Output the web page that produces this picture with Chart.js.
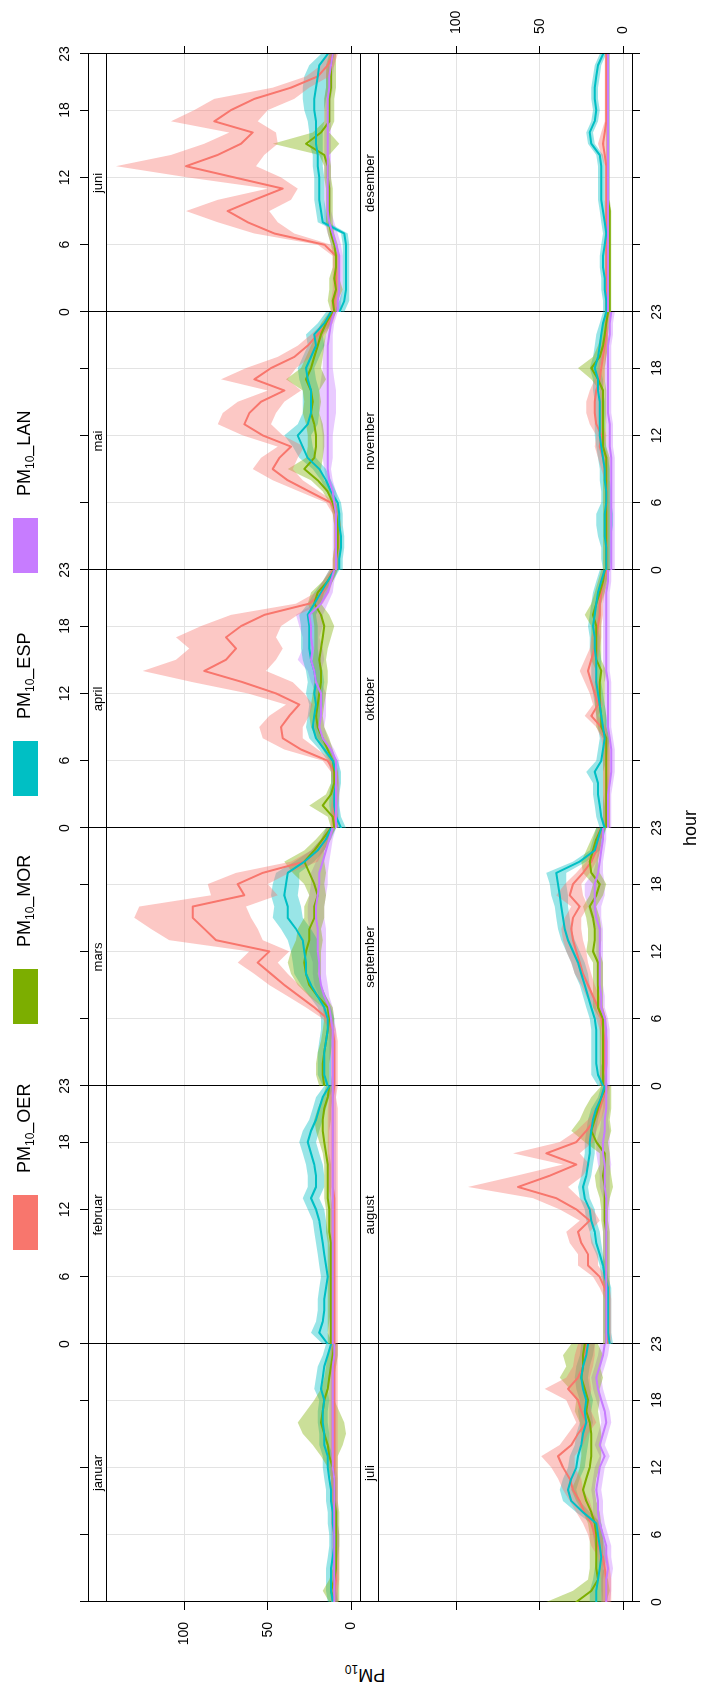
<!DOCTYPE html>
<html>
<head>
<meta charset="utf-8">
<script src="https://cdn.jsdelivr.net/npm/chart.js@4.4.1/dist/chart.umd.min.js"></script>
<style>
  html, body { margin: 0; padding: 0; background: #fff; overflow: hidden; }
  body { width: 701px; height: 1693px; position: relative; }
  /* the whole figure is laid out landscape and turned a quarter turn */
  #stage {
    position: absolute; left: 0; top: 0; width: 1693px; height: 701px;
    transform-origin: 0 0; transform: translate(0, 1693px) rotate(-90deg);
    font-family: "Liberation Sans", Arial, sans-serif; color: #000;
  }
  #stage canvas { position: absolute; }
  .key-box { position: absolute; top: 13px; width: 55px; height: 25px; }
  .key-text { position: absolute; top: 14px; font-size: 18px; line-height: 20px; white-space: nowrap; }
  .key-text sub, .title sub { font-size: 12px; line-height: 0; vertical-align: -4px; }
  .title { position: absolute; font-size: 18px; line-height: 20px; white-space: nowrap; }
</style>
</head>
<body>
<div id="stage"></div>
<script>
// hourly PM10 by month, four stations: mean and half width of the 95% interval
const months = ['januar', 'februar', 'mars', 'april', 'mai', 'juni',
                'juli', 'august', 'september', 'oktober', 'november', 'desember'];
const hours = [0, 1, 2, 3, 4, 5, 6, 7, 8, 9, 10, 11, 12, 13, 14, 15, 16, 17, 18, 19, 20, 21, 22, 23];
const hourTicks = [0, 6, 12, 18, 23];
const valueTicks = [0, 50, 100];
const seriesNames = ['OER', 'MOR', 'ESP', 'LAN'];

const oerMean = [
  [10,10,9,9,9,9,9,10,10,10,10,10,10,10,10,10,10,10,10,10,10,10,10,10],
  [10,10,10,10,10,10,10,10,10,10,10,10,10,10,11,11,11,11,11,11,11,11,11,10],
  [10,10,10,10,10,11,14,22,31,40,48,56,49,81,88,95,95,64,68,53,28,20,15,12],
  [10,10,10,9,9,10,14,30,41,42,37,31,45,65,88,75,69,75,66,52,25,17,14,11],
  [9,9,8,8,8,9,12,25,38,47,43,36,53,64,61,54,40,58,48,34,26,20,14,11],
  [10,10,9,9,9,9,16,46,62,74,58,41,70,99,80,66,59,82,72,58,36,20,14,11],
  [10,10,10,11,12,15,17,19,23,26,30,32,36,39,31,27,22,25,27,33,27,24,23,22],
  [9,9,9,9,9,11,14,21,21,25,27,20,28,40,63,44,28,46,28,22,17,14,12,10],
  [12,12,11,11,11,12,13,15,18,21,24,26,28,30,31,30,26,32,30,24,19,16,15,13],
  [10,10,10,10,10,10,10,10,11,13,19,15,17,19,21,19,17,16,15,14,14,13,12,10],
  [10,10,10,10,10,10,10,10,10,11,12,14,13,16,17,17,16,14,13,12,11,10,10,9],
  [10,10,10,10,10,10,10,10,10,10,10,10,10,10,11,12,11,10,10,10,10,10,10,10]
];
const oerCi = [
  [2,2,2,2,2,2,2,2,2,2,2,2,2,2,2,2,2,2,2,2,2,2,2,2],
  [2,2,2,2,2,2,2,2,2,2,2,2,2,2,3,3,3,3,3,3,3,3,2,2],
  [2,2,2,2,2,2,3,5,7,9,10,12,12,28,32,35,32,20,18,16,8,4,3,2],
  [2,2,2,2,2,2,3,10,12,13,12,8,17,30,37,30,28,30,24,20,8,4,3,2],
  [2,2,2,2,2,2,3,6,9,12,11,8,12,16,16,14,10,20,15,10,6,4,3,2],
  [2,2,2,2,2,2,4,12,18,25,22,9,28,42,28,22,14,26,22,24,11,7,4,3],
  [3,3,3,3,3,4,4,5,5,6,6,7,7,10,7,6,6,6,7,14,7,6,6,5],
  [2,2,2,2,2,3,4,6,6,7,7,6,10,14,30,20,8,20,10,6,4,3,2,2],
  [2,2,2,2,2,2,3,3,4,4,5,5,6,6,6,5,5,8,5,4,3,3,2,2],
  [2,2,2,2,2,2,2,2,2,3,4,3,3,4,5,4,3,3,2,2,2,2,2,2],
  [1,1,1,1,1,1,1,1,1,2,3,3,3,4,5,5,4,3,2,2,2,1,1,1],
  [1,1,1,1,1,1,1,1,1,1,1,1,1,1,2,3,2,1,1,1,1,1,1,1]
];

const morMean = [
  [10,12,10,9,9,9,9,9,9,10,10,10,11,13,14,16,18,17,16,14,13,12,11,10],
  [12,12,12,12,12,12,12,12,12,12,13,13,13,14,14,14,14,15,16,17,17,16,14,13],
  [16,17,17,16,15,14,13,14,20,25,27,28,27,25,25,22,22,20,22,25,28,22,17,12],
  [10,11,17,12,10,10,11,14,17,20,21,20,19,18,18,19,18,17,16,18,22,20,14,10],
  [9,9,8,8,8,9,11,14,20,28,22,21,21,22,24,23,24,27,24,22,20,18,15,11],
  [10,11,9,10,9,9,10,12,13,13,13,13,14,14,16,27,18,13,13,13,12,12,12,11],
  [28,19,15,16,16,16,16,17,19,22,24,22,20,19,19,19,20,22,21,23,25,24,24,23],
  [10,10,10,10,10,10,10,10,10,10,10,11,11,11,11,12,11,11,16,19,17,15,13,10],
  [12,12,12,12,12,12,12,15,15,15,15,15,18,17,17,18,20,16,14,19,20,18,16,13],
  [10,10,10,10,10,10,10,10,10,13,13,14,14,14,13,16,16,16,16,18,16,14,12,11],
  [10,10,10,10,10,10,10,10,10,10,10,12,12,12,12,12,12,15,19,14,12,11,10,9],
  [8,8,8,8,8,8,8,8,8,8,9,9,9,9,9,9,9,9,9,9,9,9,9,9]
];
const morCi = [
  [3,5,3,2,2,2,2,2,2,2,2,2,3,5,9,13,14,10,6,4,3,3,3,2],
  [2,2,2,2,2,2,2,2,2,2,2,2,2,2,2,2,2,2,3,4,5,4,3,2],
  [3,4,4,4,3,3,3,3,5,7,9,10,9,8,7,6,6,5,6,10,12,6,4,3],
  [2,3,8,3,2,2,2,3,4,4,4,4,4,4,4,4,4,5,6,5,4,4,3,2],
  [2,2,2,2,2,2,2,3,4,10,5,5,5,5,5,5,5,12,6,5,4,3,3,2],
  [2,3,4,3,2,2,2,2,2,2,2,2,2,2,3,20,5,3,3,3,3,3,3,2],
  [18,11,6,4,4,4,4,4,5,6,7,6,6,6,6,6,6,7,7,9,13,10,12,8],
  [2,2,2,2,2,2,2,2,2,2,2,2,2,3,5,5,3,3,7,12,9,8,6,3],
  [2,2,2,2,2,2,2,3,3,3,3,3,4,4,4,4,4,4,4,5,5,4,3,3],
  [2,2,2,2,2,2,2,2,2,3,3,3,3,3,3,3,3,3,3,5,3,3,3,2],
  [2,2,2,2,2,2,2,2,2,2,2,2,2,2,2,2,2,4,8,4,3,2,2,2],
  [1,1,1,1,1,1,1,1,1,1,1,1,1,1,1,1,1,1,1,1,1,1,1,1]
];

const espMean = [
  [11,12,12,12,11,10,10,11,11,12,12,13,14,14,16,16,17,17,16,18,17,16,14,12],
  [14,19,17,16,16,15,14,15,16,17,18,19,21,24,21,21,22,24,26,24,21,19,17,13],
  [14,16,16,16,15,14,14,16,20,24,27,27,28,29,33,38,38,40,39,38,28,20,15,12],
  [6,9,10,10,9,9,11,16,21,23,22,21,22,21,22,24,25,25,25,26,22,18,14,10],
  [7,7,6,6,7,7,8,12,15,19,26,29,32,26,24,24,24,26,27,24,21,22,16,12],
  [7,4,3,3,3,3,3,4,17,18,19,19,19,20,20,21,21,21,22,22,21,20,19,14],
  [16,16,15,14,13,14,15,16,24,31,33,31,28,27,25,24,22,23,22,24,25,24,22,21],
  [8,9,9,9,9,9,11,12,14,16,17,19,20,23,24,22,21,20,20,19,18,16,13,11],
  [12,15,16,16,16,16,17,19,21,23,25,27,30,33,35,36,37,38,39,40,26,17,15,13],
  [11,13,14,15,15,17,13,12,11,12,13,14,15,16,16,16,17,17,18,17,16,15,13,11],
  [10,10,10,11,11,11,10,10,11,11,12,13,14,14,14,14,15,15,17,15,14,13,12,10],
  [10,10,11,11,12,12,11,10,11,12,13,13,13,13,14,19,20,17,16,17,17,16,15,12]
];
const espCi = [
  [3,3,3,3,3,3,3,3,3,3,3,3,3,3,3,3,3,3,3,4,4,4,3,3],
  [3,5,4,4,4,4,4,4,4,4,4,4,5,5,5,5,5,5,5,5,4,4,4,3],
  [3,4,4,4,4,4,4,4,5,6,7,8,8,9,9,9,8,8,8,7,6,4,3,3],
  [3,3,3,3,3,3,3,3,4,4,4,4,5,5,5,5,5,5,5,5,4,4,3,3],
  [2,2,2,2,2,2,2,3,3,4,5,6,8,6,5,5,5,5,5,5,5,5,4,3],
  [3,3,2,2,2,2,2,2,3,3,3,3,3,3,3,4,4,5,6,7,8,8,6,4],
  [4,4,3,3,3,3,3,3,4,5,5,5,5,5,4,4,4,4,4,4,4,4,4,4],
  [2,2,2,2,2,2,2,2,2,3,3,3,3,3,3,3,3,3,3,3,3,3,2,2],
  [3,4,3,3,3,3,3,3,3,3,4,4,4,4,4,4,4,5,5,6,4,3,3,3],
  [3,3,3,3,3,5,3,3,3,3,3,3,3,3,3,3,3,3,3,3,3,3,3,3],
  [2,3,3,4,5,5,3,3,3,3,3,3,3,3,3,3,3,3,3,3,3,3,2,2],
  [2,2,2,2,2,2,2,2,2,2,2,2,2,2,2,2,2,2,2,2,2,2,2,2]
];

const lanMean = [
  [10,10,10,10,10,10,10,10,10,10,10,10,11,11,11,11,11,11,11,11,11,11,10,10],
  [11,11,11,11,11,11,11,11,11,11,11,11,11,11,11,11,11,11,11,11,11,11,11,11],
  [11,11,11,11,11,11,12,13,16,18,19,19,20,20,20,21,21,20,19,19,17,15,13,11],
  [9,9,9,9,9,9,9,12,17,19,18,18,18,21,22,24,23,24,24,25,18,14,12,10],
  [9,9,9,9,9,9,10,11,13,14,14,14,14,14,14,14,14,14,14,14,14,13,12,10],
  [8,8,7,7,7,7,9,11,13,14,14,14,14,14,14,14,14,14,14,14,13,13,12,11],
  [10,10,10,9,10,10,12,14,15,15,16,15,14,11,14,12,10,11,13,15,16,14,12,11],
  [10,10,10,10,10,10,10,10,10,10,10,10,10,10,11,11,11,12,12,11,11,10,10,10],
  [10,10,10,10,10,10,11,13,13,14,14,14,14,14,14,16,17,17,17,15,14,13,12,12],
  [9,9,9,9,8,7,7,7,8,9,9,9,9,9,10,10,10,10,10,10,10,10,9,9],
  [7,7,7,7,7,7,7,7,7,7,7,8,8,8,9,9,9,9,9,9,9,8,8,7],
  [9,9,9,9,9,9,9,9,9,9,9,9,9,9,9,9,9,9,9,9,9,9,9,9]
];
const lanCi = [
  [2,2,2,2,2,2,2,2,2,2,2,2,2,2,2,2,2,2,2,2,2,2,2,2],
  [2,2,2,2,2,2,2,2,2,2,2,2,2,2,2,2,2,2,2,2,2,2,2,2],
  [2,2,2,2,2,2,2,2,3,4,4,4,5,5,5,5,5,5,5,5,4,3,2,2],
  [2,2,2,2,2,2,2,2,3,3,3,3,3,3,4,8,6,5,7,8,4,3,2,2],
  [2,2,2,2,2,2,2,2,2,2,3,3,3,4,5,5,5,4,3,3,3,2,2,2],
  [2,2,2,2,2,2,3,3,3,2,2,2,2,2,2,2,2,2,2,2,2,2,2,2],
  [2,3,3,3,3,3,3,3,3,3,3,3,3,3,3,3,3,3,3,3,3,3,3,3],
  [2,2,2,2,2,2,2,2,2,2,2,2,2,2,3,3,4,4,4,3,2,2,2,2],
  [2,2,2,2,2,2,2,2,2,2,2,2,2,2,2,3,4,6,6,3,2,2,2,2],
  [2,2,2,2,2,2,2,2,2,2,2,2,2,2,2,2,2,2,2,2,2,2,2,2],
  [2,2,2,2,2,2,2,2,2,2,2,2,2,2,2,2,2,2,2,2,2,2,2,2],
  [1,1,1,1,1,1,1,1,1,1,1,1,1,1,1,1,1,1,1,1,1,1,1,1]
];

const allMeans = [oerMean, morMean, espMean, lanMean];
const allCis = [oerCi, morCi, espCi, lanCi];
const lineColors = ['#F8766D', '#7CAE00', '#00BFC4', '#C77CFF'];
const bandColors = ['rgba(248,118,109,0.4)', 'rgba(124,174,0,0.4)', 'rgba(0,191,196,0.4)', 'rgba(199,124,255,0.4)'];

// panel geometry (landscape coordinates, before the quarter turn)
const PANEL_LEFT = 91;
const PANEL_W = 258;
const ROW_TOP = [88, 360];
const PANEL_H = 272;
const STRIP_H = 18;
const MARGIN = 50;
const Y_MIN = -5.4;
const Y_MAX = 157.8;
const GRID = '#e3e3e3';
const FONT = '"Liberation Sans", Arial, sans-serif';

Chart.defaults.font.family = FONT;
Chart.defaults.color = '#000';

const stage = document.getElementById('stage');

// white strip with the month name across the top of each panel
const stripPlugin = {
  id: 'strip',
  afterDraw(chart, args, opts) {
    const a = chart.chartArea;
    const ctx = chart.ctx;
    ctx.save();
    ctx.fillStyle = '#fff';
    ctx.fillRect(a.left + 1, a.top + 1, a.right - a.left - 1, STRIP_H - 1);
    ctx.strokeStyle = '#000';
    ctx.lineWidth = 1;
    ctx.beginPath();
    ctx.moveTo(a.left, a.top + STRIP_H + 0.5);
    ctx.lineTo(a.right + 1, a.top + STRIP_H + 0.5);
    ctx.stroke();
    ctx.fillStyle = '#000';
    ctx.font = '13px ' + FONT;
    ctx.textAlign = 'center';
    ctx.textBaseline = 'middle';
    ctx.fillText(opts.label, (a.left + a.right) / 2, a.top + STRIP_H / 2 + 1);
    ctx.restore();
  }
};

function hourAxis(position, withTicks, withLabels, gridOnArea, pad) {
  return {
    type: 'linear', position: position, min: 0, max: 23,
    afterBuildTicks: s => { s.ticks = hourTicks.map(v => ({ value: v })); },
    afterFit: s => { s.height = MARGIN; },
    grid: { display: true, drawOnChartArea: gridOnArea, color: GRID, drawTicks: withTicks, tickLength: 8, tickColor: '#000' },
    border: { color: '#000', width: 1 },
    ticks: { display: withLabels, padding: pad, autoSkip: false, maxRotation: 0, minRotation: 0,
             font: { size: 14 }, color: '#000', callback: v => String(v) }
  };
}

function valueAxis(position, withTicks, withLabels, gridOnArea) {
  return {
    type: 'linear', position: position, min: Y_MIN, max: Y_MAX,
    afterBuildTicks: s => { s.ticks = valueTicks.map(v => ({ value: v })); },
    afterFit: s => { s.width = MARGIN; },
    grid: { display: true, drawOnChartArea: gridOnArea, color: GRID, drawTicks: withTicks, tickLength: 8, tickColor: '#000' },
    border: { color: '#000', width: 1 },
    ticks: { display: withLabels, padding: 12, font: { size: 14 }, color: '#000', callback: v => String(v) }
  };
}

function makePanel(m) {
  const row = m < 6 ? 0 : 1;
  const col = m % 6;
  const w = PANEL_W + 2 * MARGIN;
  const h = PANEL_H + 2 * MARGIN;
  const canvas = document.createElement('canvas');
  canvas.width = w;
  canvas.height = h;
  canvas.style.width = w + 'px';
  canvas.style.height = h + 'px';
  canvas.style.left = (PANEL_LEFT + col * PANEL_W - MARGIN) + 'px';
  canvas.style.top = (ROW_TOP[row] - MARGIN) + 'px';
  stage.appendChild(canvas);

  const bands = [];
  const lines = [];
  allMeans.forEach((means, s) => {
    const mean = means[m];
    const ci = allCis[s][m];
    bands.push({
      data: hours.map(hr => ({ x: hr, y: mean[hr] + ci[hr] })),
      borderWidth: 0, pointRadius: 0, backgroundColor: bandColors[s], fill: '+1', order: 10
    });
    bands.push({
      data: hours.map(hr => ({ x: hr, y: mean[hr] - ci[hr] })),
      borderWidth: 0, pointRadius: 0, fill: false, order: 10
    });
    lines.push({
      label: 'PM10_' + seriesNames[s],
      data: hours.map(hr => ({ x: hr, y: mean[hr] })),
      borderColor: lineColors[s], borderWidth: 2, pointRadius: 0, fill: false,
      borderJoinStyle: 'round', borderCapStyle: 'round', order: 3 - s
    });
  });

  // hour labels alternate between top and bottom from column to column
  const topLabels = row === 0 && col % 2 === 1;
  const bottomLabels = row === 1 && col % 2 === 0;

  new Chart(canvas, {
    type: 'line',
    data: { datasets: bands.concat(lines) },
    options: {
      responsive: false,
      animation: false,
      devicePixelRatio: 1,
      layout: { padding: 0, autoPadding: false },
      plugins: {
        legend: { display: false },
        tooltip: { enabled: false },
        filler: { drawTime: 'beforeDatasetsDraw' },
        strip: { label: months[m] }
      },
      scales: {
        x: hourAxis('top', row === 0, topLabels, true, 6),
        x2: hourAxis('bottom', row === 1, bottomLabels, false, 9),
        y: valueAxis('left', col === 0, row === 0 && col === 0, true),
        y2: valueAxis('right', col === 5, row === 1 && col === 5, false)
      }
    },
    plugins: [stripPlugin]
  });
}

months.forEach((name, m) => makePanel(m));

// key across the top
const KEY_X = [443, 669, 897, 1120];
seriesNames.forEach((name, s) => {
  const box = document.createElement('div');
  box.className = 'key-box';
  box.style.left = KEY_X[s] + 'px';
  box.style.background = lineColors[s];
  stage.appendChild(box);
  const txt = document.createElement('div');
  txt.className = 'key-text';
  txt.style.left = (KEY_X[s] + 77) + 'px';
  txt.innerHTML = 'PM<sub>10</sub>_' + name;
  stage.appendChild(txt);
});

// axis titles
const xTitle = document.createElement('div');
xTitle.className = 'title';
xTitle.textContent = 'hour';
xTitle.style.left = '865px';
xTitle.style.top = '680px';
xTitle.style.transform = 'translateX(-50%)';
stage.appendChild(xTitle);

const yTitle = document.createElement('div');
yTitle.className = 'title';
yTitle.innerHTML = 'PM<sub>10</sub>';
yTitle.style.left = '18px';
yTitle.style.top = '365px';
yTitle.style.transform = 'translate(-50%, -50%) rotate(-90deg)';
stage.appendChild(yTitle);
</script>
</body>
</html>
